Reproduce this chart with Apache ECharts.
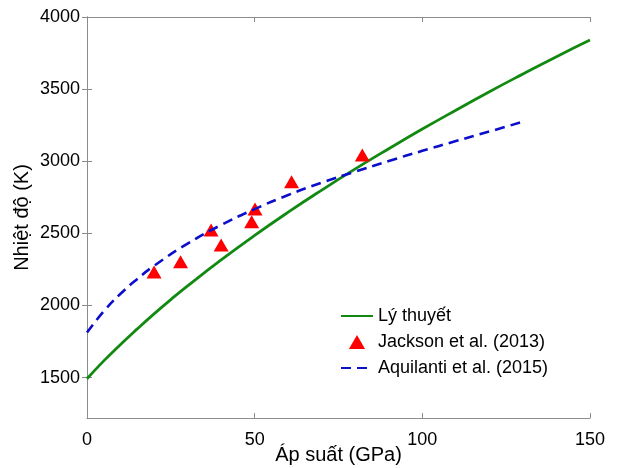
<!DOCTYPE html>
<html>
<head>
<meta charset="utf-8">
<script src="https://cdn.jsdelivr.net/npm/echarts@6/dist/echarts.min.js"></script>
<style>
html,body{margin:0;padding:0;background:#fff;}
#c{width:618px;height:468px;}
</style>
</head>
<body>
<div id="c"></div>
<script>
// Lý thuyết (theory curve)
var pressureTheory = [0, 5, 10, 15, 20, 25, 30, 40, 50, 60, 70, 80, 90, 100, 110, 120, 130, 140, 150];
var tempTheory = [1492, 1616, 1730, 1838, 1942, 2041, 2136, 2316, 2486, 2647, 2800, 2947, 3087, 3223, 3354, 3482, 3605, 3725, 3840];
// Jackson et al. (2013)
var pressureJackson = [20.0, 27.9, 37.0, 40.0, 49.1, 50.1, 61.0, 82.1];
var tempJackson = [2233, 2303, 2523, 2419, 2581, 2669, 2858, 3044];
// Aquilanti et al. (2015)
var pressureAquilanti = [0, 5, 10, 15, 20, 30, 40, 50, 60, 70, 80, 90, 100, 110, 120, 130.6];
var tempAquilanti = [1812, 1960, 2081, 2184, 2275, 2429, 2558, 2668, 2766, 2852, 2928, 3002, 3072, 3140, 3206, 3278];
// ticks
var xTicks = [0, 50, 100, 150];
var yTicks = [1500, 2000, 2500, 3000, 3500, 4000];
var seriesNames = ['Lý thuyết', 'Jackson et al. (2013)', 'Aquilanti et al. (2015)'];

function pairs(xs, ys) { return xs.map(function (x, i) { return [x, ys[i]]; }); }

var FONT = '"Liberation Sans", Arial, sans-serif';
var axisGrey = '#8c8c8c';
var plain = function (v) { return String(v); };

var chart = echarts.init(document.getElementById('c'), null, { renderer: 'canvas' });
chart.setOption({
  animation: false,
  backgroundColor: '#ffffff',
  grid: { left: 87, right: 28, top: 17, bottom: 50, containLabel: false, outerBoundsMode: 'none' },
  legend: {
    orient: 'vertical',
    left: 335,
    top: 302,
    itemWidth: 32,
    itemHeight: 14,
    itemGap: 8,
    textStyle: { fontFamily: FONT, fontSize: 18, color: '#000' },
    data: [
      { name: seriesNames[0], itemStyle: { opacity: 0 } },
      { name: seriesNames[1], icon: 'path://M7.5,0 L15,13 L0,13 Z' },
      { name: seriesNames[2], itemStyle: { opacity: 0 } }
    ]
  },
  xAxis: [{
    type: 'value', min: 0, max: 150, interval: 50,
    name: 'Áp suất (GPa)', nameLocation: 'middle', nameGap: 27, nameMoveOverlap: false,
    nameTextStyle: { fontFamily: FONT, fontSize: 20, color: '#000' },
    axisLine: { show: true, lineStyle: { color: axisGrey, width: 1 } },
    axisTick: { show: true, inside: true, length: 5, lineStyle: { color: axisGrey }, customValues: xTicks },
    axisLabel: { fontFamily: FONT, fontSize: 18, color: '#000', margin: 13, formatter: plain, customValues: xTicks },
    splitLine: { show: false }
  }, {
    type: 'value', min: 0, max: 150, interval: 50, position: 'top',
    axisLine: { show: true, lineStyle: { color: axisGrey, width: 1 } },
    axisTick: { show: true, inside: true, length: 5, lineStyle: { color: axisGrey }, customValues: xTicks },
    axisLabel: { show: false },
    splitLine: { show: false }
  }],
  yAxis: [{
    type: 'value', min: 1220, max: 4000,
    name: 'Nhiệt độ (K)', nameLocation: 'middle', nameGap: 55, nameRotate: 90, nameMoveOverlap: false,
    nameTextStyle: { fontFamily: FONT, fontSize: 20, color: '#000' },
    axisLine: { show: true, lineStyle: { color: axisGrey, width: 1 } },
    axisTick: { show: true, inside: true, length: 5, lineStyle: { color: axisGrey }, customValues: yTicks },
    axisLabel: { fontFamily: FONT, fontSize: 18, color: '#000', margin: 7, formatter: plain, customValues: yTicks },
    splitLine: { show: false }
  }, {
    type: 'value', min: 1220, max: 4000, position: 'right',
    axisLine: { show: true, lineStyle: { color: axisGrey, width: 1 } },
    axisTick: { show: true, inside: true, length: 5, lineStyle: { color: axisGrey }, customValues: yTicks },
    axisLabel: { show: false, customValues: yTicks },
    splitLine: { show: false }
  }],
  series: [{
    name: seriesNames[0],
    type: 'line',
    smooth: true,
    symbol: 'none',
    data: pairs(pressureTheory, tempTheory),
    lineStyle: { color: '#128a12', width: 2.8 },
    itemStyle: { color: '#128a12' },
    z: 2
  }, {
    name: seriesNames[1],
    type: 'scatter',
    symbol: 'triangle',
    symbolSize: [15, 13],
    data: pairs(pressureJackson, tempJackson),
    itemStyle: { color: '#ff0000', opacity: 1 },
    z: 3
  }, {
    name: seriesNames[2],
    type: 'line',
    smooth: true,
    symbol: 'none',
    data: pairs(pressureAquilanti, tempAquilanti),
    lineStyle: { color: '#0d0dcc', width: 2.6, type: [10, 6] },
    itemStyle: { color: '#0d0dcc' },
    z: 4
  }]
});
</script>
</body>
</html>
